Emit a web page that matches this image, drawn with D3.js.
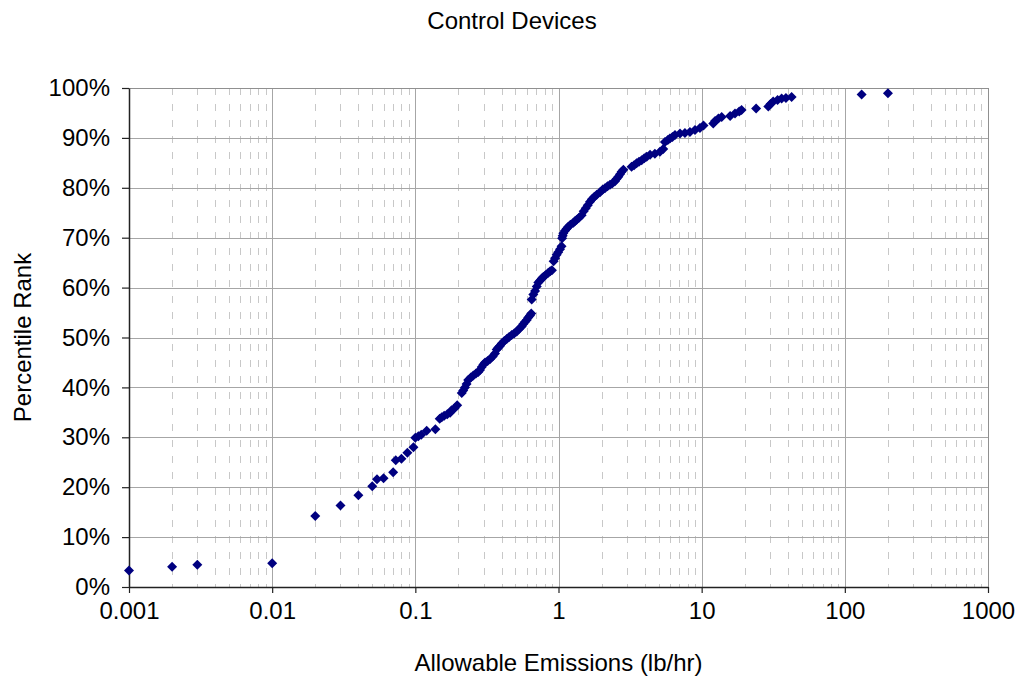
<!DOCTYPE html>
<html>
<head>
<meta charset="utf-8">
<script src="https://cdn.jsdelivr.net/npm/d3@7"></script>
<style>
  html, body { margin: 0; padding: 0; background: #fff; }
  svg { display: block; font-family: "Liberation Sans", Arial, sans-serif; }
</style>
</head>
<body>
<svg id="chart" width="1021" height="678"></svg>
<script>
// Allowable emissions (lb/hr) of control devices and their percentile rank (%)
const emissions = [
  0.001, 0.002, 0.003, 0.01, 0.02, 0.03, 0.04, 0.05, 0.054, 0.06,
  0.07, 0.073, 0.08, 0.088, 0.097, 0.1, 0.105, 0.11, 0.12, 0.138,
  0.148, 0.153, 0.159, 0.167, 0.175, 0.179, 0.188, 0.196, 0.211, 0.216,
  0.222, 0.228, 0.234, 0.244, 0.254, 0.265, 0.275, 0.283, 0.291, 0.299,
  0.307, 0.32, 0.333, 0.347, 0.36, 0.37, 0.38, 0.39, 0.401, 0.418,
  0.435, 0.452, 0.471, 0.49, 0.511, 0.53, 0.553, 0.568, 0.583, 0.6,
  0.615, 0.632, 0.645, 0.65, 0.667, 0.686, 0.705, 0.723, 0.745, 0.764,
  0.783, 0.81, 0.849, 0.875, 0.9, 0.925, 0.946, 0.971, 0.995, 1.024,
  1.05, 1.06, 1.07, 1.08, 1.11, 1.14, 1.17, 1.21, 1.27, 1.3,
  1.34, 1.39, 1.45, 1.5, 1.55, 1.6, 1.66, 1.71, 1.78, 1.85,
  1.95, 2.03, 2.11, 2.2, 2.29, 2.38, 2.48, 2.55, 2.62, 2.69,
  2.76, 2.84, 3.24, 3.37, 3.51, 3.65, 3.81, 3.97, 4.13, 4.36,
  4.71, 5.11, 5.39, 5.54, 5.8, 6.0, 6.25, 6.51, 7.06, 7.64,
  8.28, 8.98, 9.73, 10.3, 12.05, 12.4, 13.1, 13.8, 15.8, 17.1,
  18.3, 19.0, 24.0, 29.2, 30.3, 31.6, 33.9, 36.2, 38.8, 42.5,
  131, 200
];
const percentileRank = [
  3.3, 4.05, 4.45, 4.75, 14.25, 16.35, 18.4, 20.2, 21.6, 21.8,
  23.0, 25.4, 25.7, 26.9, 28.0, 29.9, 30.2, 30.5, 31.3, 31.6,
  33.7, 34.0, 34.3, 34.6, 34.9, 35.4, 35.8, 36.4, 38.9, 39.4,
  40.0, 40.7, 41.5, 42.0, 42.4, 42.8, 43.1, 43.5, 44.1, 44.6,
  45.0, 45.3, 45.7, 46.2, 46.8, 47.6, 48.0, 48.3, 48.8, 49.3,
  49.7, 50.1, 50.5, 50.8, 51.2, 51.7, 52.2, 52.7, 53.1, 53.5,
  54.0, 54.4, 54.8, 57.6, 58.6, 59.3, 60.2, 61.0, 61.4, 61.8,
  62.1, 62.5, 63.0, 63.3, 63.5, 65.3, 65.9, 66.6, 67.1, 67.7,
  68.3, 69.9, 70.4, 70.9, 71.4, 71.8, 72.2, 72.6, 73.0, 73.3,
  73.6, 74.0, 74.5, 75.3, 75.9, 76.5, 77.2, 77.7, 78.2, 78.6,
  79.1, 79.6, 79.9, 80.3, 80.6, 80.9, 81.3, 81.8, 82.2, 82.7,
  83.2, 83.6, 84.2, 84.5, 84.9, 85.2, 85.5, 85.9, 86.2, 86.6,
  86.8, 87.2, 87.8, 89.2, 89.6, 89.9, 90.2, 90.6, 90.9, 91.0,
  91.2, 91.6, 92.0, 92.5, 92.9, 93.4, 93.9, 94.2, 94.4, 94.9,
  95.3, 95.6, 95.9, 96.3, 96.8, 97.3, 97.6, 97.9, 98.0, 98.2,
  98.7, 98.95
];

const xTickValues = [0.001, 0.01, 0.1, 1, 10, 100, 1000];
const xTickLabels = ["0.001", "0.01", "0.1", "1", "10", "100", "1000"];
const yTickValues = [0, 10, 20, 30, 40, 50, 60, 70, 80, 90, 100];
const yTickLabels = ["0%", "10%", "20%", "30%", "40%", "50%", "60%", "70%", "80%", "90%", "100%"];

const chartTitle = "Control Devices";
const xTitle = "Allowable Emissions (lb/hr)";
const yTitle = "Percentile Rank";

// Layout
const plot = { left: 129, right: 988, top: 88, bottom: 587 };
const fontSize = 24;

const svg = d3.select("#chart");

const x = d3.scaleLog().domain([0.001, 1000]).range([plot.left, plot.right]);
const y = d3.scaleLinear().domain([0, 100]).range([plot.bottom, plot.top]);

// Minor (2..9 per decade) dashed vertical gridlines
const minorValues = [];
xTickValues.slice(0, -1).forEach(d => {
  for (let k = 2; k <= 9; k++) minorValues.push(d * k);
});
svg.append("g")
  .selectAll("line")
  .data(minorValues)
  .join("line")
  .attr("x1", d => Math.round(x(d)) + 0.5)
  .attr("x2", d => Math.round(x(d)) + 0.5)
  .attr("y1", plot.top)
  .attr("y2", plot.bottom)
  .attr("stroke", "#c8c8c8")
  .attr("stroke-width", 1)
  .attr("stroke-dasharray", "7,9");

// Major gridlines
svg.append("g")
  .selectAll("line")
  .data(xTickValues)
  .join("line")
  .attr("x1", d => Math.round(x(d)) + 0.5)
  .attr("x2", d => Math.round(x(d)) + 0.5)
  .attr("y1", plot.top)
  .attr("y2", plot.bottom)
  .attr("stroke", "#a6a6a6")
  .attr("stroke-width", 1);

svg.append("g")
  .selectAll("line")
  .data(yTickValues)
  .join("line")
  .attr("x1", plot.left)
  .attr("x2", plot.right)
  .attr("y1", d => Math.round(y(d)) + 0.5)
  .attr("y2", d => Math.round(y(d)) + 0.5)
  .attr("stroke", "#a6a6a6")
  .attr("stroke-width", 1);

// Plot area border
svg.append("rect")
  .attr("x", plot.left + 0.5)
  .attr("y", plot.top + 0.5)
  .attr("width", plot.right - plot.left)
  .attr("height", plot.bottom - plot.top)
  .attr("fill", "none")
  .attr("stroke", "#909090")
  .attr("stroke-width", 1);

// Axes
const xAxis = d3.axisBottom(x)
  .tickValues(xTickValues)
  .tickFormat((d, i) => xTickLabels[i])
  .tickSize(6)
  .tickPadding(9)
  .tickSizeOuter(0);

const gx = svg.append("g")
  .attr("transform", `translate(0,${plot.bottom})`)
  .call(xAxis);

const yAxis = d3.axisLeft(y)
  .tickValues(yTickValues)
  .tickFormat((d, i) => yTickLabels[i])
  .tickSize(7)
  .tickPadding(12)
  .tickSizeOuter(0);

const gy = svg.append("g")
  .attr("transform", `translate(${plot.left},0)`)
  .call(yAxis);

[gx, gy].forEach(g => {
  g.select(".domain").attr("stroke", "#222").attr("stroke-width", 1.5);
  g.selectAll(".tick line").attr("stroke", "#222").attr("stroke-width", 1.2);
  g.selectAll(".tick text")
    .attr("fill", "#000")
    .style("font-size", fontSize + "px")
    .style("font-family", "'Liberation Sans', Arial, sans-serif");
});

// Scatter markers (diamonds)
const r = 5;
const diamond = `M0,${-r}L${r},0L0,${r}L${-r},0Z`;
svg.append("g")
  .selectAll("path")
  .data(emissions.map((e, i) => ({ e, p: percentileRank[i] })))
  .join("path")
  .attr("d", diamond)
  .attr("transform", d => `translate(${x(d.e)},${y(d.p)})`)
  .attr("fill", "#000080");

// Titles
svg.append("text")
  .attr("x", 512)
  .attr("y", 29)
  .attr("text-anchor", "middle")
  .style("font-size", fontSize + "px")
  .text(chartTitle);

svg.append("text")
  .attr("x", (plot.left + plot.right) / 2)
  .attr("y", 671)
  .attr("text-anchor", "middle")
  .style("font-size", fontSize + "px")
  .text(xTitle);

svg.append("text")
  .attr("transform", `translate(31,${(plot.top + plot.bottom) / 2}) rotate(-90)`)
  .attr("text-anchor", "middle")
  .style("font-size", fontSize + "px")
  .text(yTitle);
</script>
</body>
</html>
